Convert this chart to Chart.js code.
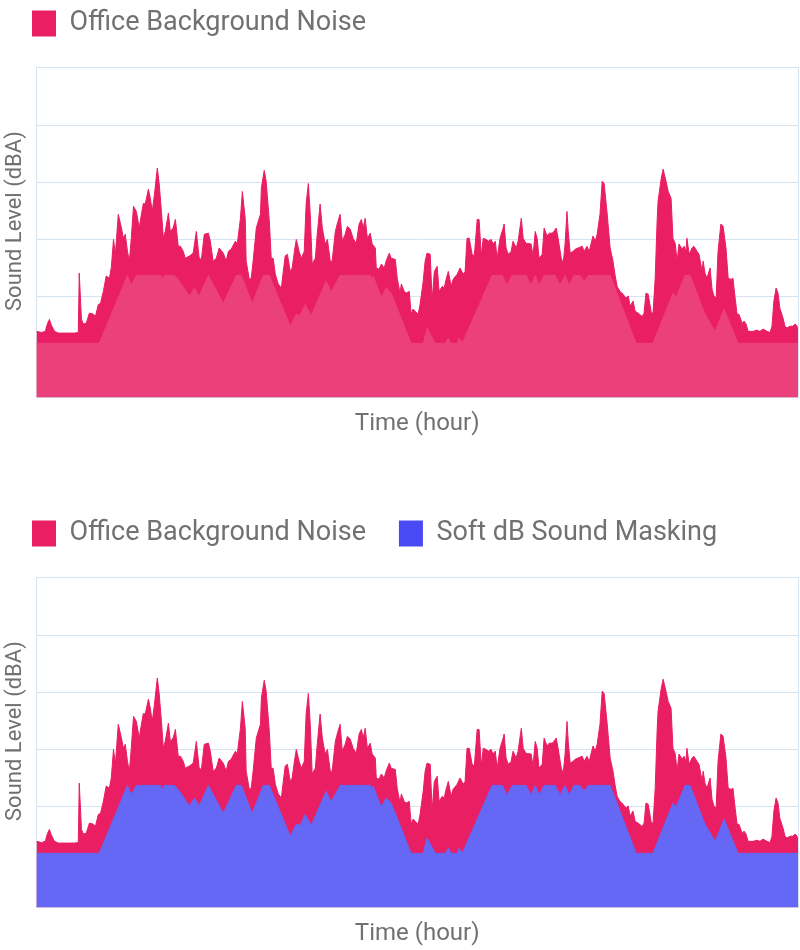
<!DOCTYPE html>
<html><head><meta charset="utf-8">
<script src="https://cdn.jsdelivr.net/npm/chart.js@4"></script>
<style>
html,body{margin:0;padding:0;background:#fff;overflow:hidden;width:800px;height:950px}
.p{position:absolute;left:0;width:800px;height:440px}
</style></head><body>
<div class="p" style="top:0"><canvas id="c1"></canvas></div>
<div class="p" style="top:510px"><canvas id="c2"></canvas></div>
<script>
// Time in hours, levels in dBA
const noiseHours = [0.00,0.16,0.28,0.35,0.41,0.47,0.57,0.69,0.94,1.20,1.32,1.35,1.42,1.48,1.57,1.67,1.80,1.86,1.95,2.02,2.11,2.20,2.30,2.36,2.43,2.49,2.58,2.68,2.74,2.80,2.87,2.93,2.99,3.06,3.15,3.24,3.31,3.37,3.43,3.53,3.59,3.65,3.72,3.81,3.87,3.94,4.00,4.06,4.16,4.22,4.31,4.38,4.47,4.54,4.63,4.69,4.82,4.94,5.04,5.13,5.20,5.29,5.42,5.48,5.57,5.67,5.76,5.89,5.98,
6.05,6.14,6.27,6.33,6.43,6.49,6.58,6.61,6.71,6.77,6.83,6.93,7.06,7.09,7.18,7.24,7.34,7.40,7.46,7.53,7.62,7.72,7.78,7.84,7.91,8.00,8.06,8.13,8.19,8.28,8.35,8.44,8.50,8.57,8.63,8.69,8.79,8.85,8.94,9.01,9.10,9.17,9.26,9.32,9.42,9.48,9.57,9.64,9.73,9.80,9.89,9.98,10.08,10.17,10.24,10.30,10.36,10.43,10.52,10.58,10.68,10.71,10.80,10.87,10.96,11.02,11.12,11.18,11.31,11.37,11.46,11.50,11.59,11.65,11.75,11.81,11.87,11.94,12.03,
12.09,12.19,12.25,12.31,12.41,12.47,12.54,12.63,12.69,12.79,12.85,12.91,12.98,13.07,13.13,13.26,13.35,13.45,13.51,13.57,13.64,13.73,13.80,13.89,13.95,14.02,14.08,14.17,14.24,14.33,14.39,14.46,14.52,14.61,14.71,14.74,14.80,14.87,14.96,15.02,15.12,15.18,15.28,15.34,15.43,15.50,15.59,15.65,15.72,15.78,15.84,15.94,16.00,16.09,16.16,16.25,16.31,16.38,16.44,16.54,16.60,16.66,16.72,16.76,16.82,16.91,16.98,17.07,17.20,17.26,17.35,17.42,17.54,17.61,17.67,17.76,17.83,17.89,17.98,
18.08,18.17,18.24,18.30,18.39,18.49,18.58,18.65,18.71,18.80,18.87,18.96,19.09,19.15,19.21,19.28,19.37,19.43,19.50,19.56,19.59,19.69,19.75,19.84,19.91,20.00,20.06,20.13,20.19,20.25,20.35,20.41,20.47,20.50,20.57,20.66,20.72,20.82,20.88,20.98,21.01,21.07,21.13,21.23,21.29,21.35,21.42,21.48,21.57,21.64,21.73,21.80,21.89,21.95,22.02,22.08,22.14,22.24,22.30,22.36,22.43,22.58,22.71,22.80,22.90,23.02,23.12,23.18,23.24,23.31,23.37,23.43,23.53,23.59,23.65,23.75,23.84,23.91,23.97,24.00];
const noiseLevels = [33.9,33.7,33.9,35.3,36.0,35.0,33.9,33.6,33.6,33.6,33.7,44.1,36.0,35.2,35.3,37.1,36.9,36.5,38.6,38.8,40.9,43.6,43.2,45.0,50.0,47.4,54.4,52.0,50.2,50.9,47.9,46.2,50.2,55.8,54.9,52.0,54.4,56.3,56.2,58.8,57.2,54.9,57.9,62.5,59.7,54.9,50.2,51.4,54.6,51.4,52.0,53.5,48.8,48.8,47.9,46.7,47.1,47.6,51.4,46.7,46.5,50.9,51.1,49.7,46.2,46.7,48.5,47.6,46.2,
47.9,48.3,49.7,49.2,53.7,58.4,53.7,46.2,43.0,43.2,46.2,52.0,54.4,59.0,62.1,60.2,53.2,46.7,46.7,43.9,42.2,41.5,44.4,47.1,47.4,44.4,45.0,47.9,50.0,47.9,46.7,47.9,56.2,59.8,54.4,45.7,46.7,50.9,56.2,52.0,49.2,50.0,46.2,46.2,51.4,52.7,54.4,49.7,50.9,52.3,51.8,50.2,49.3,52.7,53.5,52.0,53.7,50.2,51.1,49.2,48.5,45.0,44.8,45.7,45.0,46.2,47.6,46.7,46.5,43.2,40.6,42.2,40.9,40.6,40.9,36.9,37.8,37.4,36.9,
38.6,42.7,46.2,47.6,47.4,39.2,44.4,45.3,40.9,41.8,41.5,43.0,44.4,41.8,43.0,43.9,45.0,43.9,44.4,50.2,50.2,47.4,47.1,53.5,53.5,47.1,50.2,50.0,49.7,50.0,49.2,49.7,46.7,50.2,52.0,52.7,48.5,47.4,47.9,49.7,48.5,49.7,53.7,50.2,49.3,49.3,49.2,47.1,51.4,50.2,46.7,47.4,52.0,50.6,51.1,51.1,51.4,52.0,50.2,46.7,45.8,49.2,54.9,51.4,47.6,47.9,48.3,48.5,48.8,47.9,48.8,47.9,50.6,49.7,50.9,54.4,60.2,59.8,54.9,
48.5,46.2,43.6,41.8,40.9,40.4,39.7,40.1,38.3,39.2,37.4,37.1,36.5,37.1,40.6,40.4,37.4,36.9,43.2,53.2,56.7,60.7,62.3,60.2,58.4,57.2,50.2,49.3,46.2,49.2,48.3,48.8,47.9,50.2,47.4,48.5,48.8,47.9,47.4,44.4,46.2,44.1,43.2,45.0,41.3,40.1,39.7,47.9,52.7,52.3,48.5,43.2,43.0,43.2,39.7,36.9,36.9,35.3,35.7,35.2,33.9,33.9,34.1,33.9,34.3,33.9,33.7,34.8,39.2,41.5,40.6,37.9,36.2,34.8,34.5,34.8,34.8,35.2,34.8,34.5];

const maskingHours = [0.00,1.98,2.87,2.99,3.15,3.91,3.97,4.03,4.35,4.47,4.82,4.98,5.13,5.42,5.89,6.30,6.46,6.80,7.15,7.34,8.00,8.19,8.31,8.47,8.66,9.13,9.29,9.57,10.52,10.55,10.61,10.87,11.02,11.18,11.81,12.19,12.31,12.57,12.88,12.98,13.07,13.26,13.32,13.42,14.36,14.68,14.83,14.99,15.43,15.59,15.72,15.84,16.00,16.35,16.50,16.66,16.79,16.94,17.13,17.26,17.39,18.08,18.90,19.43,20.06,20.16,20.44,20.60,21.07,21.39,21.67,22.11,24.00];
const maskingLevels = [31.8,31.8,43.7,42.0,43.7,43.7,43.0,43.7,43.7,43.0,40.1,41.5,40.1,43.7,38.8,43.7,43.7,38.8,43.7,43.7,34.8,36.9,36.7,38.6,36.7,42.7,40.8,43.7,43.7,43.0,43.6,39.9,41.5,40.6,31.8,31.8,34.5,31.8,31.8,32.7,31.8,31.8,32.7,31.8,43.7,43.7,42.0,43.7,43.7,42.0,43.7,42.0,43.7,43.7,42.0,43.7,42.0,43.7,43.7,42.7,43.7,43.7,31.8,31.8,40.6,39.9,43.7,43.7,36.9,33.9,37.8,31.8,31.8];

const yGridValues = [22.3,30,40,50,60,70,80.2];
const xGridValues = [0,24];
const seriesNames = ['Office Background Noise','Soft dB Sound Masking'];

Chart.defaults.font.family = 'Roboto';
Chart.defaults.color = '#717171';

const GRID = '#d6e4f1';
const TEXT = '#717171';

// place the legend like the reference: above the plot, starting at the plot's left edge
const legendPlace = {
  id: 'legendPlace',
  afterLayout(chart) {
    const lg = chart.legend;
    lg.top -= 20; lg.bottom -= 20;
    lg.left += 22; lg.right += 22;
  }
};

function pts(xs, ys) { return xs.map((x, i) => ({x: x, y: ys[i]})); }

function makeChart(id, maskFill, maskLegend, showMaskLegend) {
  return new Chart(document.getElementById(id), {
    type: 'line',
    data: {
      datasets: [
        {label: seriesNames[0], data: pts(noiseHours, noiseLevels), backgroundColor: '#E91E63', borderColor: '#E91E63', legendColor: '#E91E63',
         borderWidth: 1, pointRadius: 0, tension: 0, fill: 'start', order: 1},
        {label: seriesNames[1], data: pts(maskingHours, maskingLevels), backgroundColor: maskFill, borderColor: maskFill, legendColor: maskLegend,
         borderWidth: 1, pointRadius: 0, tension: 0, fill: 'start', order: 0}
      ]
    },
    options: {
      responsive: true, maintainAspectRatio: false, animation: false,
      layout: {padding: {top: 20, right: 2}},
      plugins: {
        tooltip: {enabled: false},
        legend: {
          display: true, position: 'top', align: 'start',
          labels: {
            boxWidth: 24, boxHeight: 26, padding: 10, color: TEXT,
            font: {size: 27, family: 'Roboto'},
            sort: (a, b) => a.datasetIndex - b.datasetIndex,
            filter: (item) => showMaskLegend || item.datasetIndex === 0,
            generateLabels: (chart) => {
              const items = Chart.defaults.plugins.legend.labels.generateLabels(chart);
              return items.map(it => {
                const c = chart.data.datasets[it.datasetIndex].legendColor;
                it.fillStyle = c; it.strokeStyle = c; it.lineWidth = 0;
                if (showMaskLegend && it.datasetIndex === 0) it.text = it.text + '\u2002\u2004';
                return it;
              });
            }
          }
        }
      },
      scales: {
        x: {
          type: 'linear', min: 0, max: 24,
          afterBuildTicks: (s) => { s.ticks = xGridValues.map(v => ({value: v})); },
          ticks: {display: false},
          grid: {display: true, color: GRID, drawTicks: false},
          border: {display: true, color: GRID},
          title: {display: true, text: 'Time (hour)', color: TEXT, font: {size: 24, family: 'Roboto'}, padding: {top: 12, bottom: 1.6}}
        },
        y: {
          min: 22.3, max: 80.2,
          afterBuildTicks: (s) => { s.ticks = yGridValues.map(v => ({value: v})); },
          ticks: {display: false},
          grid: {display: true, color: GRID, drawTicks: false},
          border: {display: true, color: GRID},
          title: {display: true, text: '\u2002\u2002Sound Level (dBA)', color: TEXT, font: {size: 22, family: 'Roboto'}, padding: {top: 2, bottom: 8}}
        }
      }
    },
    plugins: [legendPlace]
  });
}

makeChart('c1', '#EC407A', '#EC407A', false);
makeChart('c2', '#6567F5', '#4A4AF4', true);
</script>
</body></html>
